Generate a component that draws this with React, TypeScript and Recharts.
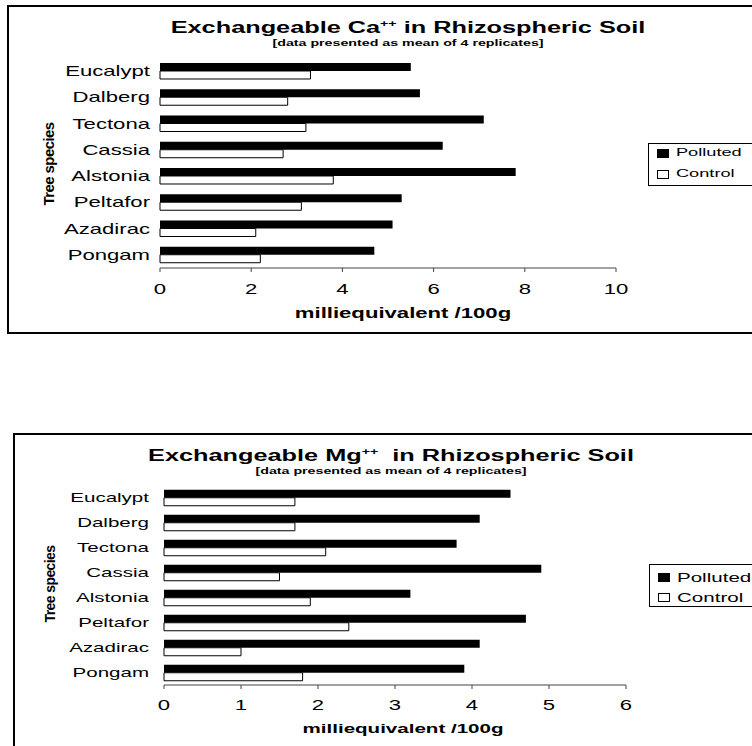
import React from 'react'
import { BarChart, Bar, XAxis, YAxis, Legend } from 'recharts'

const FONT = '"Liberation Sans", Arial, sans-serif'
// the source picture is stretched sideways, so text is widened to match
const SX = 1.58

const categories = ['Eucalypt', 'Dalberg', 'Tectona', 'Cassia', 'Alstonia', 'Peltafor', 'Azadirac', 'Pongam']
const seriesNames = ['Polluted', 'Control']
const caPolluted = [5.5, 5.7, 7.1, 6.2, 7.8, 5.3, 5.1, 4.7]
const caControl = [3.3, 2.8, 3.2, 2.7, 3.8, 3.1, 2.1, 2.2]
const mgPolluted = [4.5, 4.1, 3.8, 4.9, 3.2, 4.7, 4.1, 3.9]
const mgControl = [1.7, 1.7, 2.1, 1.5, 1.9, 2.4, 1.0, 1.8]
const caTicks = [0, 2, 4, 6, 8, 10]
const mgTicks = [0, 1, 2, 3, 4, 5, 6]
const edgeTicks = [0, 1, 2, 3, 4, 5, 6, 7, 8]

const buildRows = (polluted: number[], control: number[]) =>
  categories.map((name, i) => ({ name, Polluted: polluted[i], Control: control[i] }))

const caRows = buildRows(caPolluted, caControl)
const mgRows = buildRows(mgPolluted, mgControl)

const Stretched = ({ x, y, size, bold, children, anchor = 'center' }: any) => (
  <div
    style={{
      position: 'absolute',
      left: x,
      top: y,
      fontFamily: FONT,
      fontSize: size,
      fontWeight: bold ? 'bold' : 'normal',
      whiteSpace: 'nowrap',
      lineHeight: 1,
      transformOrigin: anchor === 'center' ? 'center' : 'left center',
      transform: anchor === 'center' ? `translate(-50%,-50%) scaleX(${SX})` : `translate(0,-50%) scaleX(${SX})`,
    }}
  >
    {children}
  </div>
)

const CatTick = ({ x, y, payload, fontSize }: any) => (
  <g transform={`translate(${x},${y})`}>
    <text transform={`scale(${SX},1)`} textAnchor="end" dy="0.35em" fontSize={fontSize} fontFamily={FONT} fill="#000">
      {payload.value}
    </text>
  </g>
)

const NumTick = ({ x, y, payload, fontSize }: any) => (
  <g transform={`translate(${x},${y})`}>
    <text transform={`scale(${SX},1)`} textAnchor="middle" dy="0.71em" fontSize={fontSize} fontFamily={FONT} fill="#000">
      {payload.value}
    </text>
  </g>
)

interface PanelProps {
  top: number
  height: number
  rows: { name: string; Polluted: number; Control: number }[]
  ticks: number[]
  margin: { top: number; right: number; left: number; bottom: number }
  catWidth: number
  catFont: number
  catGap: number
  tickGap: number
  legendPos: { left: number; top: number }
  legendFont: number
  legendRows: [number, number]
}

function Panel(p: PanelProps) {
  const renderLegend = ({ payload }: any) => {
    if (!payload) return null
    const items = [...payload].sort((a: any, b: any) => seriesNames.indexOf(a.value) - seriesNames.indexOf(b.value))
    return (
      <div style={{ position: 'relative', width: 110, height: 41, border: '1px solid #000', background: '#fff' }}>
        {items.map((entry: any, i: number) => (
          <div key={entry.value}>
            <span
              style={{
                position: 'absolute',
                left: 8,
                top: p.legendRows[i] - 4.5,
                width: 12,
                height: 9,
                boxSizing: 'border-box',
                border: '1px solid #000',
                background: entry.value === 'Polluted' ? '#000' : '#fff',
              }}
            />
            <Stretched x={27} y={p.legendRows[i]} size={p.legendFont} anchor="left">
              {entry.value}
            </Stretched>
          </div>
        ))}
      </div>
    )
  }

  return (
    <div style={{ position: 'absolute', left: 0, top: p.top }}>
      <BarChart
        width={752}
        height={p.height}
        data={p.rows}
        layout="vertical"
        margin={p.margin}
        barCategoryGap="19%"
        barGap={0}
      >
        <XAxis
          type="number"
          domain={[p.ticks[0], p.ticks[p.ticks.length - 1]]}
          ticks={p.ticks}
          interval={0}
          height={30}
          tickSize={4}
          tickMargin={p.tickGap}
          axisLine={{ stroke: '#444' }}
          tickLine={{ stroke: '#444' }}
          tick={(props: any) => <NumTick {...props} fontSize={14} />}
        />
        <YAxis
          yAxisId="edge"
          type="number"
          domain={[0, 8]}
          ticks={edgeTicks}
          allowDataOverflow
          interval={0}
          width={0}
          tick={false}
          tickSize={7}
          axisLine={{ stroke: '#000' }}
          tickLine={{ stroke: '#000' }}
        />
        <YAxis
          yAxisId="cat"
          type="category"
          dataKey="name"
          width={p.catWidth}
          axisLine={false}
          tickLine={false}
          tickSize={0}
          tickMargin={p.catGap}
          interval={0}
          tick={(props: any) => <CatTick {...props} fontSize={p.catFont} />}
        />
        <Legend
          layout="vertical"
          align="center"
          verticalAlign="middle"
          content={renderLegend}
          wrapperStyle={{ left: p.legendPos.left, top: p.legendPos.top, width: 110 }}
        />
        <Bar yAxisId="cat" dataKey="Polluted" fill="#000" isAnimationActive={false} />
        <Bar yAxisId="cat" dataKey="Control" fill="#fff" stroke="#000" strokeWidth={1} isAnimationActive={false} />
      </BarChart>
    </div>
  )
}

const TreeLabel = ({ x, y, size }: any) => (
  <div
    style={{
      position: 'absolute',
      left: x,
      top: y,
      fontFamily: FONT,
      fontSize: size,
      fontWeight: 'bold',
      whiteSpace: 'nowrap',
      lineHeight: 1,
      letterSpacing: -0.6,
      transform: 'translate(-50%,-50%) rotate(-90deg)',
    }}
  >
    Tree species
  </div>
)

export default function App() {
  return (
    <div style={{ position: 'absolute', left: 0, top: 0, width: 752, height: 746, overflow: 'hidden', background: '#fff' }}>
      <div style={{ position: 'absolute', left: 7, top: 5, width: 760, height: 329, boxSizing: 'border-box', border: '2px solid #000' }} />
      <div style={{ position: 'absolute', left: 13, top: 433, width: 760, height: 340, boxSizing: 'border-box', border: '2px solid #000' }} />

      <Panel
        top={0}
        height={340}
        rows={caRows}
        ticks={caTicks}
        margin={{ top: 58, right: 136, left: 10, bottom: 42 }}
        catWidth={150}
        catFont={14}
        catGap={10}
        tickGap={12}
        legendPos={{ left: 648, top: 143 }}
        legendFont={11.5}
        legendRows={[9, 30]}
      />
      <Panel
        top={420}
        height={326}
        rows={mgRows}
        ticks={mgTicks}
        margin={{ top: 65, right: 126, left: 10, bottom: 31 }}
        catWidth={154}
        catFont={13}
        catGap={15}
        tickGap={11}
        legendPos={{ left: 649, top: 564 - 420 }}
        legendFont={13}
        legendRows={[12, 32]}
      />

      <Stretched x={408} y={28} size={16} bold>
        Exchangeable Ca<sup style={{ fontSize: 9 }}>++</sup> in Rhizospheric Soil
      </Stretched>
      <Stretched x={408} y={43} size={9} bold>
        [data presented as mean of 4 replicates]
      </Stretched>
      <Stretched x={403} y={313} size={14} bold>
        milliequivalent /100g
      </Stretched>
      <TreeLabel x={48} y={164} size={15} />

      <Stretched x={391} y={456} size={16} bold>
        Exchangeable Mg<sup style={{ fontSize: 9 }}>++</sup>&nbsp; in Rhizospheric Soil
      </Stretched>
      <Stretched x={391} y={471} size={9} bold>
        [data presented as mean of 4 replicates]
      </Stretched>
      <Stretched x={403} y={728} size={13} bold>
        milliequivalent /100g
      </Stretched>
      <TreeLabel x={50} y={584} size={14} />
    </div>
  )
}
